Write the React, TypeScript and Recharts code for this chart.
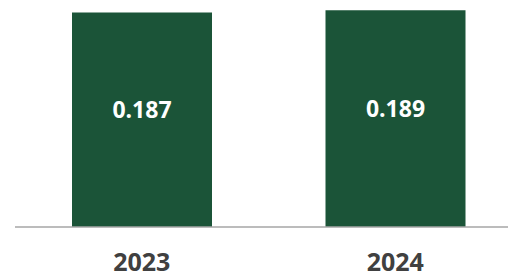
import React from "react";
import { Bar, BarChart, LabelList, XAxis, YAxis } from "recharts";

const years = ["2023", "2024"];
const values = [0.187, 0.189];

const data = years.map((year, i) => ({ year, value: values[i] }));

const FONT = "'Open Sans', 'Noto Sans', sans-serif";
const GREEN = "#1b5438";

function ValueLabel(props: any) {
  const { x, y, width, height, value } = props;
  return (
    <text
      x={x + width / 2}
      y={y + height * 0.45}
      fill="#ffffff"
      textAnchor="middle"
      dominantBaseline="central"
      fontFamily={FONT}
      fontWeight={700}
      fontSize={23}
    >
      {Number(value).toFixed(3)}
    </text>
  );
}

export default function App() {
  return (
    <div
      style={{
        position: "absolute",
        left: 0,
        top: 0,
        width: 508,
        height: 279,
        overflow: "hidden",
        background: "#ffffff",
      }}
    >
      <BarChart
        width={522}
        height={279}
        data={data}
        margin={{ top: 9, right: 0, bottom: 0, left: 15 }}
        barCategoryGap={57}
      >
        <YAxis hide domain={[0, 0.19]} />
        <XAxis
          dataKey="year"
          height={52}
          tickLine={false}
          tickMargin={20}
          axisLine={{ stroke: "#a6a6a6", strokeWidth: 1.5 }}
          tick={{ fill: "#404040", fontSize: 25, fontWeight: 700, fontFamily: FONT }}
        />
        <Bar dataKey="value" fill={GREEN} isAnimationActive={false}>
          <LabelList dataKey="value" content={<ValueLabel />} />
        </Bar>
      </BarChart>
    </div>
  );
}
